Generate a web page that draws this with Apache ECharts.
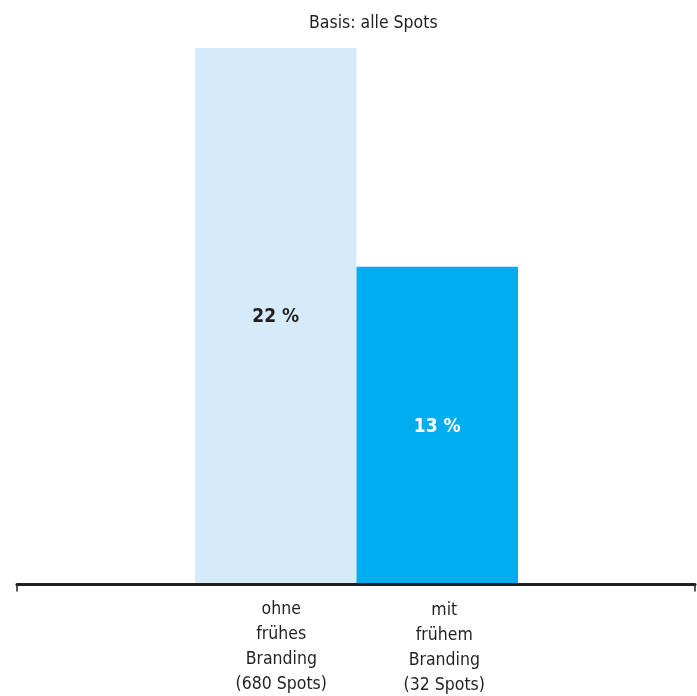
<!DOCTYPE html>
<html>
<head>
<meta charset="utf-8">
<script src="https://cdn.jsdelivr.net/npm/echarts@6/dist/echarts.min.js"></script>
<style>
  html, body { margin: 0; padding: 0; background: #ffffff; }
  #chart { width: 697px; height: 696px; }
</style>
</head>
<body>
<div id="chart"></div>
<script>
// Share of spots (percent), by early-branding group
const categories = ['ohne\nfrühes\nBranding\n(680 Spots)', 'mit\nfrühem\nBranding\n(32 Spots)'];
const values = [22, 13];
const barColors = ['#d5ebf9', '#00aeef'];
const valueLabelColors = ['#231f20', '#ffffff'];
const subtitle = 'Basis: alle Spots';

const FONT = '"Liberation Sans Narrow", "DejaVu Sans Condensed", "Arial Narrow", sans-serif';
const INK = '#231f20';

const chart = echarts.init(document.getElementById('chart'), null, { renderer: 'canvas' });

chart.setOption({
  backgroundColor: '#ffffff',
  animation: false,
  title: {
    text: subtitle,
    left: 304,
    top: 9,
    textStyle: { fontFamily: FONT, fontSize: 17.5, fontWeight: 'normal', color: INK }
  },
  grid: [
    // bars
    { left: 195, right: 179, top: 48, bottom: 113, outerBoundsMode: 'none', containLabel: false },
    // full-width baseline with end ticks
    { left: 17, right: 2, top: 48, bottom: 111.5, outerBoundsMode: 'none', containLabel: false }
  ],
  xAxis: [
    {
      type: 'category',
      gridIndex: 0,
      data: categories.map((c, i) => ({
        value: c,
        textStyle: { padding: i === 0 ? [0, 0, 0, 11] : [1, 0, 0, 14] }
      })),
      axisLine: { show: false },
      axisTick: { show: false },
      axisLabel: {
        interval: 0,
        margin: 14,
        fontFamily: FONT,
        fontSize: 17.5,
        lineHeight: 25,
        color: INK
      }
    },
    {
      type: 'category',
      gridIndex: 1,
      data: [''],
      axisLine: { show: true, lineStyle: { color: INK, width: 3 } },
      axisTick: { show: true, length: 7, lineStyle: { color: INK, width: 1.5 } },
      axisLabel: { show: false }
    }
  ],
  yAxis: [
    { type: 'value', gridIndex: 0, min: 0, max: 22, show: false },
    { type: 'value', gridIndex: 1, min: 0, max: 22, show: false }
  ],
  series: [
    {
      type: 'bar',
      xAxisIndex: 0,
      yAxisIndex: 0,
      barCategoryGap: '0%',
      data: values.map((v, i) => ({
        value: v,
        itemStyle: { color: barColors[i] },
        label: { color: valueLabelColors[i] }
      })),
      label: {
        show: true,
        position: 'inside',
        offset: [0, 2],
        formatter: '{c} %',
        fontFamily: FONT,
        fontSize: 19,
        fontWeight: 'bold'
      }
    }
  ]
});
</script>
</body>
</html>
